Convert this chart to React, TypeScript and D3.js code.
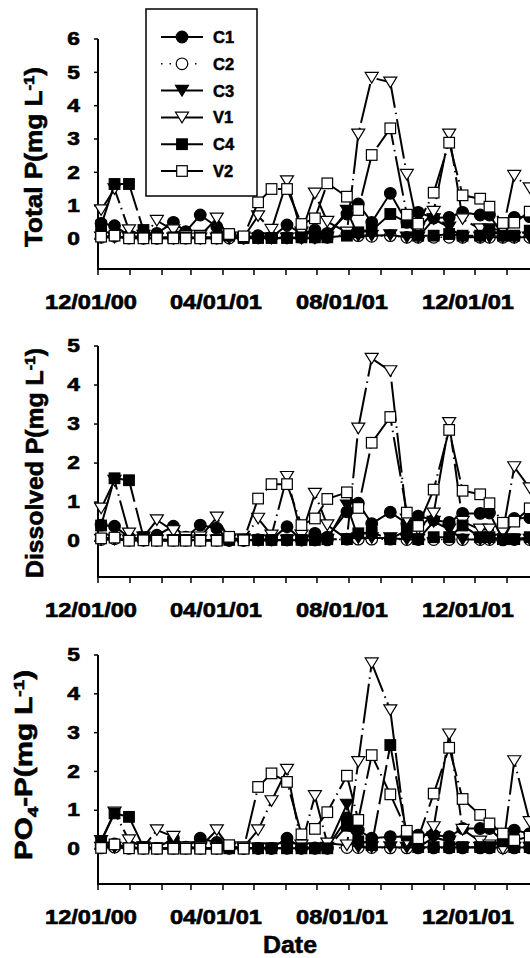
import React from "react";
import * as d3 from "d3";

const sampleDates = ["2000-12-04","2000-12-17","2000-12-31","2001-01-14","2001-01-27","2001-02-12","2001-02-24","2001-03-10","2001-03-26","2001-04-07","2001-04-21","2001-05-05","2001-05-18","2001-06-02","2001-06-16","2001-06-29","2001-07-11","2001-07-30","2001-08-10","2001-08-23","2001-09-10","2001-09-26","2001-10-07","2001-10-22","2001-11-06","2001-11-19","2001-12-06","2001-12-15","2001-12-28","2002-01-08","2002-01-23"];

const seriesNames = ["C1", "C2", "C3", "V1", "C4", "V2"];

// Total P
const tpC1 = [0.47,0.4,0.1,0.05,0.17,0.5,0.22,0.72,0.37,0.05,0.05,0.1,0.05,0.42,0.17,0.27,0.17,0.75,1.05,0.5,1.37,0.5,0.8,0.63,0.65,0.8,0.72,0.72,0.1,0.65,0.67];
const tpC2 = [0.05,0.08,0.03,0.02,0.02,0.03,0.03,0.03,0.03,0.03,0.03,0.05,0.05,0.05,0.05,0.05,0.05,0.15,0.1,0.08,0.1,0.05,0.05,0.05,0.05,0.05,0.05,0.05,0.05,0.05,0.05];
const tpC3 = [0.05,0.05,0.03,0.02,0.02,0.02,0.02,0.02,0.02,0.02,0.02,0.02,0.02,0.02,0.02,0.02,0.05,0.85,0.1,0.1,0.12,0.05,0.05,0.6,0.35,0.05,0.05,0.05,0.05,0.05,0.05];
const tpV1 = [0.87,1.5,0.27,0.1,0.55,0.27,0.1,0.1,0.62,0.05,0.05,0.69,0.28,1.74,0.2,1.37,0.52,0.2,3.14,4.84,4.7,1.93,0.3,0.82,3.14,0.6,0.3,0.3,0.27,1.9,1.53];
const tpC4 = [0.4,1.65,1.65,0.27,0.05,0.05,0.05,0.05,0.05,0.1,0.03,0.03,0.03,0.03,0.05,0.05,0.05,0.1,0.2,0.25,0.75,0.5,0.1,0.1,0.15,0.1,0.1,0.27,0.1,0.1,0.25];
const tpV2 = [0.07,0.1,0.02,0.02,0.02,0.02,0.02,0.02,0.02,0.15,0.08,1.1,1.5,1.5,0.45,0.62,1.67,1.27,0.87,2.52,3.32,0.73,0.46,1.39,2.89,1.31,1.21,0.97,0.48,0.49,0.82];

// Dissolved P
const dpC1 = [0.41,0.38,0.1,0.05,0.15,0.38,0.1,0.41,0.33,0.02,0.02,0.03,0.05,0.37,0.03,0.2,0.1,0.75,0.97,0.45,0.74,0.45,0.64,0.54,0.48,0.71,0.71,0.72,0.03,0.58,0.6];
const dpC2 = [0.04,0.06,0.02,0.02,0.02,0.02,0.02,0.02,0.02,0.02,0.02,0.03,0.03,0.03,0.03,0.03,0.03,0.05,0.05,0.05,0.05,0.04,0.04,0.04,0.04,0.04,0.04,0.04,0.04,0.04,0.04];
const dpC3 = [0.04,0.04,0.02,0.02,0.02,0.02,0.02,0.02,0.02,0.02,0.02,0.02,0.02,0.02,0.02,0.02,0.04,0.92,0.08,0.08,0.08,0.04,0.04,0.5,0.3,0.04,0.04,0.04,0.04,0.04,0.04];
const dpV1 = [0.84,1.55,0.2,0.1,0.54,0.26,0.1,0.1,0.61,0.05,0.05,0.58,0.15,1.65,0.15,1.22,0.41,0.05,2.89,4.68,4.36,0.56,0.3,0.71,3.03,0.5,0.3,0.3,0.24,1.9,1.36];
const dpC4 = [0.4,1.61,1.56,0.1,0.05,0.03,0.03,0.03,0.03,0.03,0.03,0.03,0.03,0.03,0.03,0.03,0.05,0.05,0.2,0.22,0.05,0.28,0.05,0.1,0.1,0.4,0.1,0.1,0.05,0.05,0.1];
const dpV2 = [0.07,0.09,0.01,0.02,0.01,0.01,0.01,0.01,0.01,0.11,0.02,1.09,1.46,1.46,0.41,0.58,1.08,1.25,0.85,2.52,3.18,0.73,0.39,1.32,2.85,1.29,1.2,0.97,0.47,0.5,0.84];

// PO4-P
const poC1 = [0.1,0.13,0.05,0.03,0.02,0.28,0.05,0.28,0.17,0.03,0.02,0.02,0.02,0.28,0.03,0.03,0.03,0.8,0.49,0.28,0.32,0.32,0.36,0.36,0.32,0.53,0.53,0.53,0.2,0.49,0.4];
const poC2 = [0.03,0.05,0.02,0.02,0.02,0.02,0.02,0.02,0.02,0.02,0.02,0.02,0.02,0.02,0.02,0.02,0.02,0.04,0.04,0.04,0.03,0.03,0.03,0.03,0.03,0.03,0.03,0.03,0.03,0.03,0.03];
const poC3 = [0.04,0.04,0.02,0.02,0.02,0.02,0.02,0.02,0.02,0.02,0.02,0.02,0.02,0.02,0.02,0.02,0.04,1.15,0.05,0.05,0.05,0.04,0.04,0.3,0.2,0.04,0.04,0.04,0.04,0.04,0.04];
const poV1 = [0.21,0.95,0.23,0.05,0.49,0.32,0.05,0.05,0.49,0.05,0.05,0.49,1.24,2.05,0.1,1.37,0.15,0.1,2.25,4.79,3.58,0.2,0.2,0.57,2.96,0.5,0.2,0.1,0.0,2.27,0.7];
const poC4 = [0.2,0.92,0.83,0.05,0.02,0.02,0.02,0.02,0.02,0.02,0.02,0.02,0.02,0.02,0.02,0.02,0.02,0.6,0.2,0.1,2.68,0.35,0.05,0.05,0.05,0.05,0.05,0.05,0.2,0.05,0.05];
const poV2 = [0.03,0.12,0.02,0.01,0.01,0.01,0.01,0.01,0.01,0.1,0.01,1.6,1.95,1.73,0.38,0.52,0.95,1.89,0.75,2.42,1.41,0.47,0.28,1.43,2.61,1.29,0.88,0.66,0.4,0.23,0.32];

const yTicksTotal = [0, 1, 2, 3, 4, 5, 6];
const yTicksFive = [0, 1, 2, 3, 4, 5];

const FONT = "'Liberation Sans', Arial, Helvetica, sans-serif";

const parse = d3.timeParse("%Y-%m-%d");
const dates = sampleDates.map((s) => parse(s) as Date);

const xStart = new Date(2000, 11, 1);
const xEnd = new Date(2002, 2, 1);
const pxPerDay = 377 / 365;
const x = d3
  .scaleTime()
  .domain([xStart, xEnd])
  .range([98, 98 + ((+xEnd - +xStart) / 86400000) * pxPerDay]);

const monthTicks = d3.timeMonth.range(xStart, d3.timeMonth.offset(xEnd, 1));
const fmt = d3.timeFormat("%m/%d/%y");

type Style = { kind: string; fill: string; dash: string | null };
const styles: Record<string, Style> = {
  C1: { kind: "circle", fill: "black", dash: null },
  C2: { kind: "circle", fill: "white", dash: "1.5,7" },
  C3: { kind: "tri", fill: "black", dash: null },
  V1: { kind: "tri", fill: "white", dash: "40,5,1.5,5" },
  C4: { kind: "square", fill: "black", dash: "40,6" },
  V2: { kind: "square", fill: "white", dash: "40,5,1.5,5" },
};

function Marker({ name, cx, cy }: { name: string; cx: number; cy: number }) {
  const s = styles[name];
  if (s.kind === "circle")
    return <circle cx={cx} cy={cy} r={5.8} fill={s.fill} stroke="black" strokeWidth={1.2} />;
  if (s.kind === "square")
    return <rect x={cx - 5.3} y={cy - 5.3} width={10.6} height={10.6} fill={s.fill} stroke="black" strokeWidth={1.2} />;
  return (
    <polygon
      points={`${cx - 6.5},${cy - 5.2} ${cx + 6.5},${cy - 5.2} ${cx},${cy + 5.4}`}
      fill={s.fill}
      stroke="black"
      strokeWidth={1.2}
    />
  );
}

type Panel = {
  top: number;
  bottom: number;
  ymin: number;
  ymax: number;
  ticks: number[];
  data: Record<string, number[]>;
  title: React.ReactNode;
  titleX: number;
  titleY: number;
  titleLen: number;
};

const panels: Panel[] = [
  {
    top: 39, bottom: 269, ymin: -0.9, ymax: 6, ticks: yTicksTotal,
    data: { C1: tpC1, C2: tpC2, C3: tpC3, V1: tpV1, C4: tpC4, V2: tpV2 },
    title: (<>Total P(mg L<tspan dy={-8} fontSize={15}>-1</tspan><tspan dy={8}>)</tspan></>),
    titleX: 42, titleY: 157, titleLen: 180,
  },
  {
    top: 346, bottom: 577, ymin: -0.92, ymax: 5, ticks: yTicksFive,
    data: { C1: dpC1, C2: dpC2, C3: dpC3, V1: dpV1, C4: dpC4, V2: dpV2 },
    title: (<>Dissolved P(mg L<tspan dy={-8} fontSize={15}>-1</tspan><tspan dy={8}>)</tspan></>),
    titleX: 43, titleY: 463, titleLen: 230,
  },
  {
    top: 655, bottom: 884, ymin: -0.9, ymax: 5, ticks: yTicksFive,
    data: { C1: poC1, C2: poC2, C3: poC3, V1: poV1, C4: poC4, V2: poV2 },
    title: (<>PO<tspan dy={6} fontSize={15}>4</tspan><tspan dy={-6}>-P(mg L</tspan><tspan dy={-8} fontSize={15}>-1</tspan><tspan dy={8}>)</tspan></>),
    titleX: 32, titleY: 765, titleLen: 190,
  },
];

const textCommon = {
  fontFamily: FONT,
  fontWeight: "bold" as const,
  fill: "black",
  stroke: "black",
};

function PanelView({ p }: { p: Panel }) {
  const y = d3.scaleLinear().domain([p.ymin, p.ymax]).range([p.bottom, p.top]);
  const axisX = x(xStart);
  return (
    <g>
      {/* y axis */}
      <line x1={axisX} x2={axisX} y1={p.top} y2={p.bottom} stroke="black" strokeWidth={2} />
      {p.ticks.map((t) => (
        <g key={t}>
          <line x1={axisX - 4} x2={axisX} y1={y(t)} y2={y(t)} stroke="black" strokeWidth={1.5} />
          <text
            transform={`translate(80,${y(t) + 6.2}) scale(1.3,1)`}
            textAnchor="end"
            fontSize={17.5}
            strokeWidth={0.6}
            {...textCommon}
          >
            {t}
          </text>
        </g>
      ))}
      {/* x axis */}
      <line x1={axisX - 1} x2={540} y1={p.bottom} y2={p.bottom} stroke="black" strokeWidth={2} />
      {monthTicks.map((d, i) => (
        <line key={i} x1={x(d)} x2={x(d)} y1={p.bottom} y2={p.bottom + 6} stroke="black" strokeWidth={1.5} />
      ))}
      {monthTicks
        .filter((_, i) => i % 4 === 0)
        .map((d, i) => (
          <text
            key={i}
            x={x(d) - 7}
            y={p.bottom + 40}
            textAnchor="middle"
            fontSize={19.5}
            strokeWidth={0.6}
            textLength={92}
            lengthAdjust="spacingAndGlyphs"
            {...textCommon}
          >
            {fmt(d)}
          </text>
        ))}
      {/* title */}
      <text
        transform={`translate(${p.titleX},${p.titleY}) rotate(-90)`}
        textAnchor="middle"
        fontSize={23.5}
        strokeWidth={0.6}
        textLength={p.titleLen}
        lengthAdjust="spacingAndGlyphs"
        {...textCommon}
      >
        {p.title}
      </text>
      {/* series */}
      {seriesNames.map((name) => {
        const vals = p.data[name];
        const line = d3
          .line<number>()
          .x((_, i) => x(dates[i]))
          .y((v) => y(v));
        const st = styles[name];
        return (
          <g key={name}>
            <path
              d={line(vals) || ""}
              fill="none"
              stroke="black"
              strokeWidth={st.dash === "1.5,7" ? 1.5 : 2}
              strokeDasharray={st.dash || undefined}
            />
            {vals.map((v, i) => (
              <Marker key={i} name={name} cx={x(dates[i])} cy={y(v)} />
            ))}
          </g>
        );
      })}
    </g>
  );
}

function Legend() {
  const lx = 146, ly = 9, lw = 111, lh = 187;
  return (
    <g>
      <rect x={lx} y={ly} width={lw} height={lh} fill="white" stroke="black" strokeWidth={1.5} />
      {seriesNames.map((name, i) => {
        const yy = 37 + i * 26.8;
        const st = styles[name];
        return (
          <g key={name}>
            <line
              x1={161}
              x2={203}
              y1={yy}
              y2={yy}
              stroke="black"
              strokeWidth={st.dash === "1.5,7" ? 1.5 : 2}
              strokeDasharray={st.dash === "1.5,7" ? "1.5,7" : undefined}
            />
            <Marker name={name} cx={182} cy={yy} />
            <text x={213} y={yy + 6} fontSize={16.5} strokeWidth={0.5} {...textCommon}>
              {name}
            </text>
          </g>
        );
      })}
    </g>
  );
}

export default function App() {
  return (
    <svg
      width={530}
      height={958}
      style={{ position: "absolute", left: 0, top: 0, background: "white" }}
    >
      <rect x={0} y={0} width={530} height={958} fill="white" />
      {panels.map((p, i) => (
        <PanelView key={i} p={p} />
      ))}
      <Legend />
      <text
        x={290}
        y={953}
        textAnchor="middle"
        fontSize={23}
        strokeWidth={0.5}
        textLength={54}
        lengthAdjust="spacingAndGlyphs"
        {...textCommon}
      >
        Date
      </text>
    </svg>
  );
}
